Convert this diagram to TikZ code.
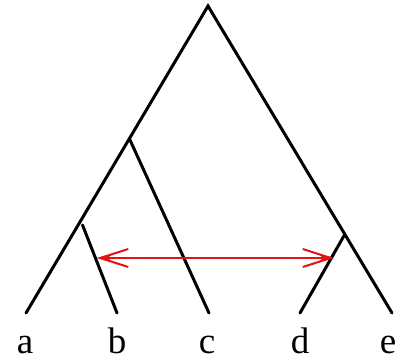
\documentclass[tikz,border=0pt]{standalone}
\usepackage{fontspec}
\setmainfont{Liberation Serif}
\usetikzlibrary{arrows.meta}
\definecolor{arrred}{RGB}{225,20,20}
\tikzset{
  branch/.style={line width=3pt, line cap=round},
  leaflabel/.style={font=\fontsize{37}{37}\selectfont, inner sep=0pt, anchor=base},
  transfer/.style={arrred, line width=1.5pt, {Straight Barb[length=28pt,width=18pt,line width=2pt]}-{Straight Barb[length=28pt,width=18pt,line width=2pt]}},
  transfertip/.style={arrred, line width=1.5pt, {Stealth[length=16pt,width=9pt]}-{Stealth[length=16pt,width=9pt]}}
}
\begin{document}
\begin{tikzpicture}[x=1pt,y=-1pt]
\useasboundingbox (0,0) rectangle (399,364);
\coordinate (root) at (208,6);
\coordinate (abc) at (130,140);
\coordinate (ab) at (82.5,225);
\coordinate (de) at (345,234);
\coordinate (la) at (26,313);
\coordinate (lb) at (117,313);
\coordinate (lc) at (209,313);
\coordinate (ld) at (300,313);
\coordinate (le) at (392,313);
\coordinate (tl) at (97,258);
\coordinate (tr) at (334,258);
\draw[branch] (la) -- (root) -- (le);
\draw[branch] (abc) -- (lc);
\draw[branch] (ab) -- (lb);
\draw[branch] (de) -- (ld);
\draw[transfer] (tl) -- (tr);
\draw[transfertip] (tl) -- (tr);
\node[leaflabel] (a) at (25,353) {a};
\node[leaflabel] (b) at (117,353) {b};
\node[leaflabel] (c) at (207,353) {c};
\node[leaflabel] (d) at (300,353) {d};
\node[leaflabel] (e) at (388,353) {e};
\end{tikzpicture}
\end{document}
